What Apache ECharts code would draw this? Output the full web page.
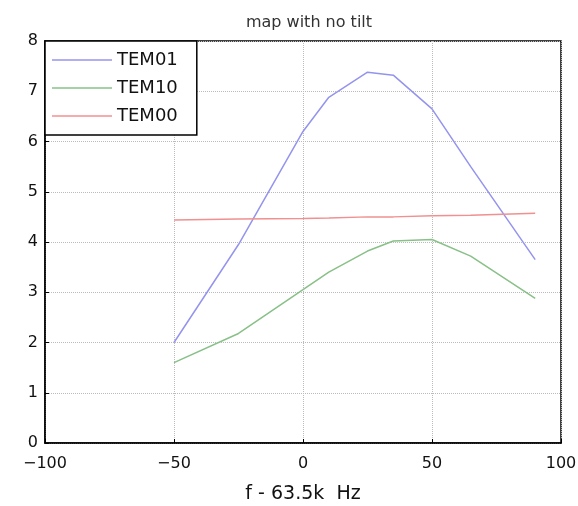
<!DOCTYPE html>
<html>
<head>
<meta charset="utf-8">
<script src="https://cdn.jsdelivr.net/npm/echarts@6/dist/echarts.min.js"></script>
<style>
  html, body { margin: 0; padding: 0; background: #fff; }
  #chart { width: 578px; height: 506px; }
</style>
</head>
<body>
<div id="chart"></div>
<script>
// frequency offsets (Hz) and the three mode curves
const freq = [-50, -25, 0, 10, 25, 35, 50, 65, 90];
const tem01 = [2.0, 3.95, 6.2, 6.88, 7.38, 7.32, 6.65, 5.5, 3.65];
const tem10 = [1.6, 2.18, 3.05, 3.4, 3.82, 4.02, 4.05, 3.72, 2.88];
const tem00 = [4.44, 4.46, 4.47, 4.48, 4.5, 4.5, 4.52, 4.53, 4.57];

const font = 'DejaVu Sans, sans-serif';

function pairs(ys) {
    return freq.map((x, i) => [x, ys[i]]);
}

const chart = echarts.init(document.getElementById('chart'));
chart.setOption({
    animation: false,
    backgroundColor: '#fff',
    textStyle: { fontFamily: font, color: '#000' },
    title: {
        text: 'map with no tilt',
        left: 304,
        textAlign: 'center',
        top: 10,
        textStyle: { fontFamily: font, fontSize: 16, fontWeight: 'normal', color: '#333' }
    },
    legend: {
        orient: 'vertical',
        left: 45,
        top: 41,
        padding: [9, 19, 9, 7],
        icon: 'rect',
        itemWidth: 60,
        itemHeight: 1.5,
        itemGap: 8,
        backgroundColor: '#fff',
        borderColor: '#000',
        borderWidth: 1.5,
        textStyle: { fontFamily: font, fontSize: 18, lineHeight: 20, color: '#111' },
        data: ['TEM01', 'TEM10', 'TEM00']
    },
    grid: {
        left: 45,
        right: 17,
        top: 41,
        bottom: 63,
        outerBoundsMode: 'none',
        show: true,
        borderColor: '#000',
        borderWidth: 1.5,
        backgroundColor: 'transparent'
    },
    xAxis: {
        type: 'value',
        min: -100,
        max: 100,
        interval: 50,
        name: 'f - 63.5k  Hz',
        nameLocation: 'middle',
        nameGap: 42,
        nameTextStyle: { fontFamily: font, fontSize: 19, color: '#111' },
        axisLine: { lineStyle: { color: '#000', width: 1.5 } },
        axisTick: { inside: true, length: 4, lineStyle: { color: '#000' } },
        axisLabel: {
            fontFamily: font,
            fontSize: 16,
            color: '#111',
            margin: 13,
            formatter: v => String(v).replace('-', '\u2212')
        },
        splitLine: { show: true, lineStyle: { type: 'dotted', color: '#bbb' } }
    },
    yAxis: {
        type: 'value',
        min: 0,
        max: 8,
        interval: 1,
        axisLine: { show: true, onZero: false, lineStyle: { color: '#000', width: 1.5 } },
        axisTick: { show: true, inside: true, length: 4, lineStyle: { color: '#000' } },
        axisLabel: { fontFamily: font, fontSize: 16, color: '#111', margin: 7 },
        splitLine: { show: true, lineStyle: { type: 'dotted', color: '#bbb' } }
    },
    series: [
        {
            name: 'TEM01',
            type: 'line',
            symbol: 'none',
            data: pairs(tem01),
            lineStyle: { color: '#9494ee', width: 1.5 },
            itemStyle: { color: '#9494ee' }
        },
        {
            name: 'TEM10',
            type: 'line',
            symbol: 'none',
            data: pairs(tem10),
            lineStyle: { color: '#88c088', width: 1.5 },
            itemStyle: { color: '#88c088' }
        },
        {
            name: 'TEM00',
            type: 'line',
            symbol: 'none',
            data: pairs(tem00),
            lineStyle: { color: '#f09090', width: 1.5 },
            itemStyle: { color: '#f09090' }
        }
    ]
});
</script>
</body>
</html>
